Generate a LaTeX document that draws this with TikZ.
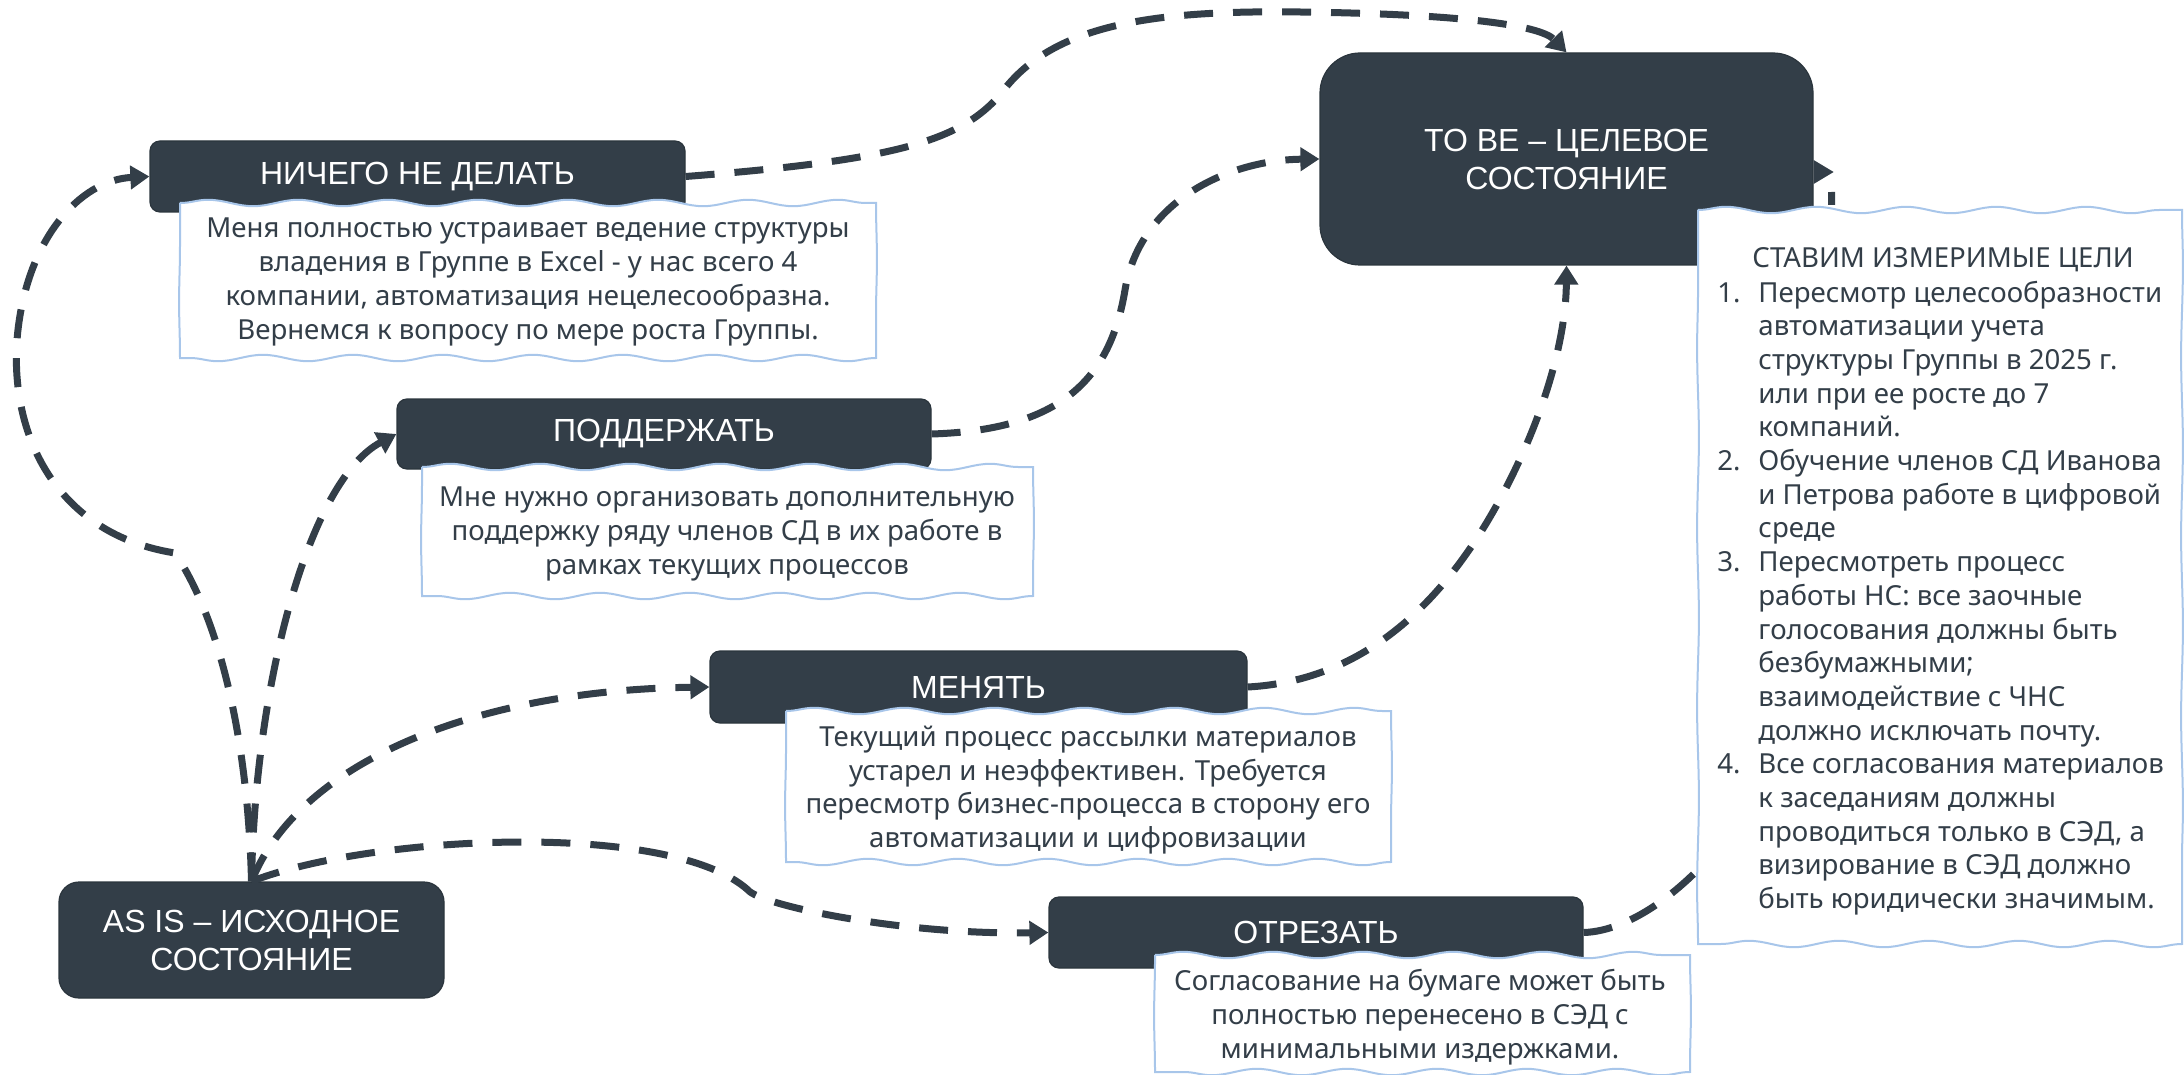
\documentclass[tikz,border=0pt]{standalone}
\usepackage{fontspec}
\setmainfont{Liberation Sans}
\newfontfamily\notefont{Noto Sans}
\usetikzlibrary{arrows.meta,decorations.pathmorphing,calc}
\definecolor{dark}{HTML}{333E48}
\definecolor{noteblue}{HTML}{A8C6EA}
\tikzset{
  box/.style={rectangle, rounded corners=5pt, fill=dark, draw=dark!85!black, line width=0.6pt,
    inner sep=0pt, text=white, align=center, font=\fontsize{16pt}{19pt}\selectfont},
  conn/.style={draw=dark, line width=3.5pt, dash pattern=on 14.5pt off 10pt,
    -{Triangle[length=9.5pt,width=11.5pt]}},
  connplain/.style={draw=dark, line width=3.5pt, dash pattern=on 14.5pt off 10pt},
  notebox/.style={draw=noteblue, fill=white, line width=1pt},
  notetext/.style={inner sep=0pt, align=center, text=dark,
    font=\notefont\fontsize{13.8pt}{16.85pt}\selectfont},
  listtext/.style={inner sep=0pt, text=dark,
    font=\notefont\fontsize{13.8pt}{16.85pt}\selectfont},
  wavyh/.style={decoration={snake, segment length=45pt, amplitude=1.6pt}},
  wavyv/.style={decoration={snake, segment length=90pt, amplitude=0.45pt}},
}
\newcommand\wavynote[4]{%
  \path[notebox] (#1,#2) decorate[wavyh]{-- (#3,#2)} decorate[wavyv]{-- (#3,#4)}
    decorate[wavyh]{-- (#1,#4)} decorate[wavyv]{-- (#1,#2)} -- cycle;}
\begin{document}
\begin{tikzpicture}[x=0.5pt,y=-0.5pt]
\useasboundingbox (0,0) rectangle (2184,1075);

% main boxes
\node[box, minimum width=267.5pt, minimum height=35.5pt] (nothing) at (417.5,176.5) {НИЧЕГО НЕ ДЕЛАТЬ};
\node[box, minimum width=267pt, minimum height=35pt] (support) at (664,434) {ПОДДЕРЖАТЬ};
\node[box, minimum width=268.5pt, minimum height=36pt] (change) at (978.5,687) {МЕНЯТЬ};
\node[box, minimum width=267pt, minimum height=35.5pt] (cut) at (1316,932.5) {ОТРЕЗАТЬ};
\node[box, rounded corners=10pt, minimum width=192.5pt, minimum height=58pt] (asis) at (251.5,940) {AS IS – ИСХОДНОЕ\\СОСТОЯНИЕ};
\node[box, rounded corners=20pt, minimum width=246.5pt, minimum height=106pt] (tobe) at (1566.5,159) {TO BE – ЦЕЛЕВОЕ\\СОСТОЯНИЕ};

% connectors
\draw[conn] (asis.north) .. controls (248,740) and (220,620) .. (175,553)
  .. controls (60,535) and (10,440) .. (17,340)
  .. controls (25,240) and (80,180) .. (nothing.west);
\draw[conn] (asis.north) .. controls (255,680) and (310,480) .. (support.west);
\draw[conn] (asis.north) .. controls (300,760) and (480,690) .. (change.west);
\draw[conn] (asis.north) .. controls (370,835) and (670,820) .. (748,890)
  .. controls (760,905) and (900,935) .. (cut.west);
\draw[conn] (nothing.east) .. controls (900,160) and (960,140) .. (1000,95)
  .. controls (1050,25) and (1150,10) .. (1300,12)
  .. controls (1460,14) and (1540,25) .. (tobe.north);
\draw[conn] (support.east) .. controls (1060,430) and (1110,380) .. (1125,290)
  .. controls (1140,200) and (1230,160) .. (tobe.west);
\draw[conn] (change.east) .. controls (1380,680) and (1460,580) .. (1510,480)
  .. controls (1550,400) and (1566,330) .. (tobe.south);
\draw[connplain] (cut.east) .. controls (1680,930) and (1840,750) .. (1835,500)
  .. controls (1832,350) and (1832,250) .. ($(tobe.east)+(18,33)$);
\fill[dark] ($(tobe.east)+(0,1)$) -- ($(tobe.east)+(20,13)$) -- ($(tobe.east)+(0,25)$) -- cycle;

% notes
\wavynote{180}{203}{876}{358}
\node[notetext] (n1) at (528,282) {Меня полностью устраивает ведение структуры\\владения в Группе в Excel - у нас всего 4\\компании, автоматизация нецелесообразна.\\Вернемся к вопросу по мере роста Группы.};
\wavynote{422}{467}{1033}{596}
\node[notetext] (n2) at (727,534) {Мне нужно организовать дополнительную\\поддержку ряду членов СД в их работе в\\рамках текущих процессов};
\wavynote{786}{711}{1391}{862}
\node[notetext] (n3) at (1088,790) {Текущий процесс рассылки материалов\\устарел и неэффективен. Требуется\\пересмотр бизнес-процесса в сторону его\\автоматизации и цифровизации};
\wavynote{1155}{955}{1690}{1072}
\node[notetext] (n4) at (1420,1017) {Согласование на бумаге может быть\\полностью перенесено в СЭД с\\минимальными издержками.};

\wavynote{1698}{210}{2182}{944}
\node[listtext, anchor=base] (goal) at (1943,268) {СТАВИМ ИЗМЕРИМЫЕ ЦЕЛИ};
\foreach \t [count=\i from 0] in {Пересмотр целесообразности, автоматизации учета,
  структуры Группы в 2025 г., или при ее росте до 7, компаний.,
  Обучение членов СД Иванова, и Петрова работе в цифровой, среде,
  Пересмотреть процесс, работы НС: все заочные, голосования должны быть,
  безбумажными;, взаимодействие с ЧНС, должно исключать почту.,
  Все согласования материалов, к заседаниям должны, {проводиться только в СЭД, а},
  визирование в СЭД должно, быть юридически значимым.}
  \node[listtext, anchor=base west] (line\i) at (1758,{302+33.7*\i}) {\t};
\foreach \n/\k in {1./0, 2./5, 3./8, 4./14}
  \node[listtext, anchor=base west] (num\k) at (1717,{302+33.7*\k}) {\n};
\end{tikzpicture}
\end{document}
